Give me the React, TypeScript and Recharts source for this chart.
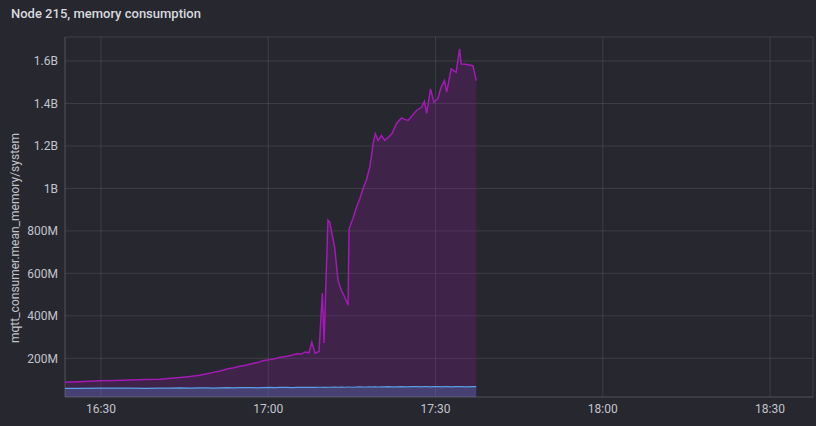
import React from 'react';
import { ComposedChart, Area, XAxis, YAxis, CartesianGrid } from 'recharts';

// minutes after 16:00
const times = [23.55, 26, 29.8, 32.5, 35.2, 38, 40.6, 42.5, 44.2, 46, 47.7, 49, 50.1, 51.4, 52.6, 53.8, 54.9, 56, 57.2, 58.1, 59.0, 60.3, 61.2, 62.1, 63.2, 64.4, 65.1, 65.9, 66.6, 67.3, 67.8, 68.4, 69.1, 69.7, 70.0, 70.7, 71.0, 71.9, 72.5, 73.1, 73.7, 74.3, 74.5, 75.2, 75.8, 76.4, 77.0, 77.6, 78.2, 78.5, 78.8, 79.2, 79.7, 80.3, 80.9, 81.5, 82.2, 83.0, 83.9, 84.5, 85.1, 85.7, 86.6, 87.5, 88.0, 88.4, 89.1, 89.7, 90.4, 91.0, 91.6, 92.0, 92.8, 93.7, 94.3, 94.6, 95.4, 96.7, 97.3];

// system memory, in millions
const systemMem = [88, 90, 94, 96, 98, 100, 102, 106, 110, 115, 120, 127, 134, 140, 150, 156, 163, 168, 176, 180, 189, 194, 198, 205, 209, 216, 222, 220, 230, 226, 276, 224, 232, 507, 272, 850, 842, 724, 568, 521, 489, 450, 810, 860, 910, 950, 1000, 1040, 1100, 1150, 1212, 1258, 1226, 1249, 1226, 1240, 1258, 1306, 1332, 1325, 1320, 1340, 1367, 1382, 1410, 1353, 1469, 1406, 1422, 1476, 1508, 1453, 1563, 1547, 1657, 1586, 1585, 1578, 1508];

// process memory, in millions
const processMem = [59, 59, 60, 60, 60, 59, 60, 60, 61, 60, 61, 61, 60, 61, 62, 61, 62, 62, 62, 61, 62, 63, 62, 63, 63, 62, 63, 63, 64, 63, 64, 63, 64, 64, 63, 64, 64, 65, 64, 65, 64, 65, 65, 64, 65, 66, 65, 65, 66, 65, 66, 66, 65, 66, 66, 67, 66, 66, 67, 66, 66, 67, 67, 66, 67, 67, 66, 67, 67, 66, 67, 67, 66, 67, 67, 67, 66, 67, 67];

const xTicks = [30, 60, 90, 120, 150];
const xTickLabels = ['16:30', '17:00', '17:30', '18:00', '18:30'];
const yTicks = [200e6, 400e6, 600e6, 800e6, 1000e6, 1200e6, 1400e6, 1600e6];
const yTickLabels = ['200M', '400M', '600M', '800M', '1B', '1.2B', '1.4B', '1.6B'];

const data = times.map((t, i) => ({
  t,
  system: systemMem[i] * 1e6,
  process: processMem[i] * 1e6,
}));

const BG = '#27272f';
const GRID = 'rgba(255,255,255,0.1)';
const TICK = '#c3c4cc';

export default function App() {
  return (
    <div style={{ position: 'fixed', left: 0, top: 0, width: 816, height: 426, background: BG, overflow: 'hidden' }}>
      <div style={{ position: 'absolute', left: 11, top: 5, fontFamily: 'Roboto, sans-serif', fontWeight: 500, fontSize: 13, color: '#d8d9de', lineHeight: '18px' }}>
        Node 215, memory consumption
      </div>
      <div style={{ position: 'absolute', left: -135, top: 231, width: 300, height: 14, lineHeight: '14px', textAlign: 'center', transform: 'rotate(-90deg)', fontFamily: 'Roboto, sans-serif', fontSize: 12, color: TICK }}>
        mqtt_consumer.mean_memory/system
      </div>
      <ComposedChart width={816} height={426} data={data} margin={{ top: 37, right: 3, bottom: 0, left: 0 }}>
        <CartesianGrid stroke={GRID} />
        <XAxis
          type="number"
          dataKey="t"
          domain={[23.54, 157.7]}
          allowDataOverflow
          ticks={xTicks}
          tickFormatter={(v: number) => xTickLabels[xTicks.indexOf(v)]}
          height={29}
          tickSize={0}
          tickMargin={7}
          axisLine={{ stroke: GRID }}
          tick={{ fill: TICK, fontSize: 12, fontFamily: 'Roboto, sans-serif' }}
        />
        <YAxis
          type="number"
          domain={[18e6, 1713e6]}
          allowDataOverflow
          ticks={yTicks}
          tickFormatter={(v: number) => yTickLabels[yTicks.indexOf(v)]}
          width={65}
          tickSize={0}
          tickMargin={7}
          axisLine={{ stroke: GRID }}
          tick={{ fill: TICK, fontSize: 12, fontFamily: 'Roboto, sans-serif' }}
        />
        <Area type="linear" dataKey="system" stroke="#a31ab7" strokeWidth={1.5} fill="#a014b4" fillOpacity={0.2} isAnimationActive={false} dot={false} activeDot={false} />
        <Area type="linear" dataKey="process" stroke="#5a9fe8" strokeWidth={1.2} fill="#5b8ee0" fillOpacity={0.28} isAnimationActive={false} dot={false} activeDot={false} />
      </ComposedChart>
    </div>
  );
}
